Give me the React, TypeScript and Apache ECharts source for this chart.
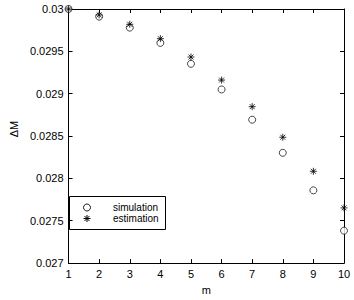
import React, { useEffect, useRef } from "react";
import * as echarts from "echarts";

const mValues = [1, 2, 3, 4, 5, 6, 7, 8, 9, 10];
const simulation = [0.03, 0.02991, 0.02978, 0.0296, 0.029353, 0.02905, 0.028693, 0.028302, 0.027859, 0.027383];
const estimation = [0.03, 0.02993, 0.02982, 0.02965, 0.029433, 0.029161, 0.028847, 0.028486, 0.028084, 0.027652];
const seriesNames = ["simulation", "estimation"];

const FONT = "Liberation Sans, Arial, Helvetica, sans-serif";
const STAR = "path://M0 -10 L0 10 M-10 0 L10 0 M-7.07 -7.07 L7.07 7.07 M-7.07 7.07 L7.07 -7.07";

function starLines(cx: number, cy: number, r: number) {
  const d = r * 0.7071;
  const segs = [
    [0, -r, 0, r],
    [-r, 0, r, 0],
    [-d, -d, d, d],
    [-d, d, d, -d],
  ];
  return segs.map((s) => ({
    type: "line",
    shape: { x1: cx + s[0], y1: cy + s[1], x2: cx + s[2], y2: cy + s[3] },
    style: { stroke: "#000", lineWidth: 1 },
  }));
}

export default function App() {
  const ref = useRef<HTMLDivElement>(null);
  useEffect(() => {
    if (!ref.current) return;
    const chart = echarts.init(ref.current, undefined, { renderer: "svg" });
    const fmt = (v: number) => String(Math.round(v * 10000) / 10000);
    const axisCommon = {
      axisLine: { show: true, onZero: false, lineStyle: { color: "#000", width: 1 } },
      axisTick: { show: true, inside: true, length: 4, lineStyle: { color: "#000" } },
      splitLine: { show: false },
    };
    chart.setOption({
      animation: false,
      backgroundColor: "#fff",
      grid: { left: 47, right: 10, top: 9, bottom: 30, containLabel: false },
      xAxis: [
        {
          type: "value", min: 1, max: 10, interval: 1, position: "bottom",
          ...axisCommon,
          axisLabel: { color: "#000", fontFamily: FONT, fontSize: 11, margin: 5 },
          name: "m", nameLocation: "middle", nameGap: 19,
          nameTextStyle: { color: "#000", fontFamily: FONT, fontSize: 11 },
        },
        {
          type: "value", min: 1, max: 10, interval: 1, position: "top",
          ...axisCommon, axisLabel: { show: false },
        },
      ],
      yAxis: [
        {
          type: "value", min: 0.027, max: 0.03, interval: 0.0005, position: "left",
          ...axisCommon,
          axisLabel: { color: "#000", fontFamily: FONT, fontSize: 11, margin: 5, formatter: fmt },
          name: "ΔM", nameLocation: "middle", nameGap: 37,
          nameTextStyle: { color: "#000", fontFamily: FONT, fontSize: 11, padding: [0, 0, 0, 14] },
        },
        {
          type: "value", min: 0.027, max: 0.03, interval: 0.0005, position: "right",
          ...axisCommon, axisLabel: { show: false },
        },
      ],
      graphic: [
        {
          type: "group",
          z: 100,
          children: [
            {
              type: "rect",
              shape: { x: 69.5, y: 196.5, width: 96, height: 33 },
              style: { fill: "#fff", stroke: "#000", lineWidth: 1 },
            },
            {
              type: "circle",
              shape: { cx: 87, cy: 207.5, r: 3.5 },
              style: { fill: "#fff", stroke: "#000", lineWidth: 0.9 },
            },
            ...starLines(87, 218.5, 3.5),
            {
              type: "text",
              x: 113, y: 207.5,
              style: { text: seriesNames[0], fill: "#000", font: `10px ${FONT}`, verticalAlign: "middle" },
            },
            {
              type: "text",
              x: 113, y: 218.5,
              style: { text: seriesNames[1], fill: "#000", font: `10px ${FONT}`, verticalAlign: "middle" },
            },
          ],
        },
      ],
      series: [
        {
          name: seriesNames[0], type: "scatter", clip: false,
          symbol: "circle", symbolSize: 7,
          itemStyle: { color: "#fff", borderColor: "#000", borderWidth: 0.9 },
          data: mValues.map((m, i) => [m, simulation[i]]),
        },
        {
          name: seriesNames[1], type: "scatter", clip: false,
          symbol: STAR, symbolSize: 7,
          itemStyle: { color: "#000", borderColor: "#000", borderWidth: 1 },
          data: mValues.map((m, i) => [m, estimation[i]]),
        },
      ],
    });
    return () => chart.dispose();
  }, []);
  return <div ref={ref} style={{ width: 354, height: 300, position: "absolute", left: 0, top: 0 }} />;
}
